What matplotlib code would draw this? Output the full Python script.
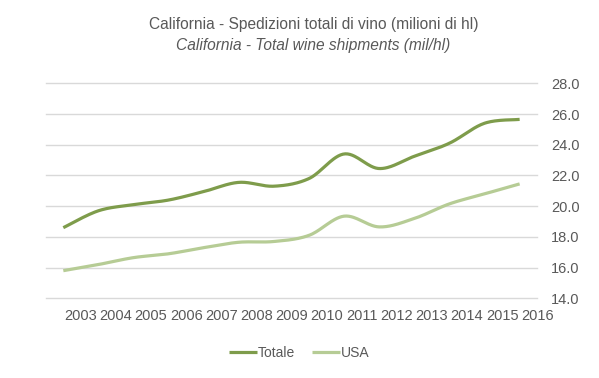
import numpy as np
import matplotlib
matplotlib.use('Agg')
import matplotlib.pyplot as plt

years = ['2003', '2004', '2005', '2006', '2007', '2008', '2009',
         '2010', '2011', '2012', '2013', '2014', '2015', '2016']
totale = [18.6, 19.7, 20.1, 20.4, 20.95, 21.55, 21.3, 21.8, 23.4, 22.45, 23.25, 24.1, 25.4, 25.65]
usa = [15.8, 16.2, 16.65, 16.9, 17.3, 17.65, 17.7, 18.1, 19.35, 18.65, 19.2, 20.15, 20.8, 21.45]
yticks = [14, 16, 18, 20, 22, 24, 26, 28]

col_tot = '#7E9C4B'
col_usa = '#B6CC95'
txt = '#595959'

plt.rcParams['font.family'] = ['Liberation Sans', 'DejaVu Sans']


def smooth(y, n=30):
    # catmull-rom style smoothing, like excel's smoothed line
    y = np.asarray(y, dtype=float)
    x = np.arange(len(y), dtype=float)
    px = np.concatenate([[x[0]], x, [x[-1]]])
    py = np.concatenate([[y[0]], y, [y[-1]]])
    xs, ys = [], []
    t = np.linspace(0, 1, n, endpoint=False)
    for i in range(1, len(px) - 2):
        p0, p1, p2, p3 = py[i - 1], py[i], py[i + 1], py[i + 2]
        q0, q1, q2, q3 = px[i - 1], px[i], px[i + 1], px[i + 2]
        h00 = 2 * t**3 - 3 * t**2 + 1
        h10 = t**3 - 2 * t**2 + t
        h01 = -2 * t**3 + 3 * t**2
        h11 = t**3 - t**2
        m1, m2 = (p2 - p0) / 2, (p3 - p1) / 2
        k1, k2 = (q2 - q0) / 2, (q3 - q1) / 2
        ys.append(h00 * p1 + h10 * m1 + h01 * p2 + h11 * m2)
        xs.append(h00 * q1 + h10 * k1 + h01 * q2 + h11 * k2)
    xs.append([x[-1]])
    ys.append([y[-1]])
    return np.concatenate(xs), np.concatenate(ys)


fig = plt.figure(figsize=(5.99, 3.78), dpi=100)
ax = fig.add_axes([0.0764, 0.2108, 0.8204, 0.5688])

sx, sy = smooth(totale)
ax.plot(sx, sy, color=col_tot, lw=2.3, solid_capstyle='butt', label='Totale')
sx, sy = smooth(usa)
ax.plot(sx, sy, color=col_usa, lw=2.3, solid_capstyle='butt', label='USA')

ax.set_xlim(-0.5, 13.45)
ax.set_ylim(14, 28)
ax.set_yticks(yticks)
ax.set_yticklabels(['%.1f' % v for v in yticks])
ax.yaxis.tick_right()
ax.set_xticks(np.arange(len(years)) + 0.5)
ax.set_xticklabels(years)
ax.tick_params(axis='both', length=0, labelsize=10.5, colors=txt)
ax.tick_params(axis='y', pad=10)
ax.tick_params(axis='x', pad=8)
for v in yticks:
    ax.axhline(v, color='#D9D9D9', lw=1, zorder=0, clip_on=False)
for s in ax.spines.values():
    s.set_visible(False)

fig.text(0.523, 0.935, 'California - Spedizioni totali di vino (milioni di hl)',
         ha='center', va='center', fontsize=11.2, color=txt)
fig.text(0.523, 0.88, 'California - Total wine shipments (mil/hl)',
         ha='center', va='center', fontsize=11.2, color=txt, style='italic')

fig.legend(loc='center', bbox_to_anchor=(0.5, 0.066), ncol=2, frameon=False,
           fontsize=10, labelcolor=txt, handlelength=2.0, handletextpad=0.1,
           columnspacing=1.2)

fig.savefig('out.png', dpi=100)
